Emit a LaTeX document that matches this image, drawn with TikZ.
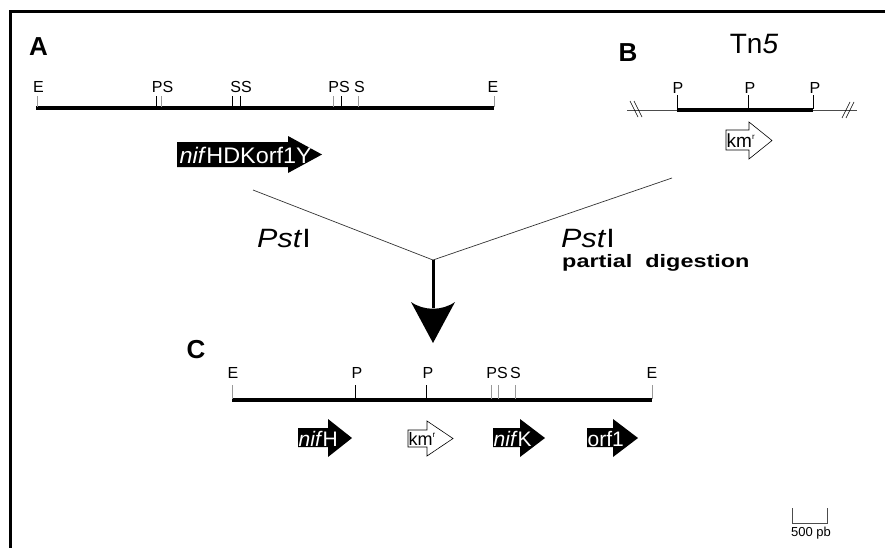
\documentclass[tikz,border=0pt]{standalone}
\usepackage{fontspec}
\setmainfont{Liberation Sans}
\usetikzlibrary{arrows.meta}

\newcommand{\wide}[2]{\scalebox{#1}[1]{#2}}
\newcommand{\kmr}{km\raisebox{0.42em}{\fontsize{8}{8}\selectfont r}}

\begin{document}
\begin{tikzpicture}[x=1pt,y=-1pt,
  panel/.style={inner sep=0pt, font=\fontsize{26}{26}\selectfont\bfseries},
  site/.style={inner sep=0pt, font=\fontsize{16}{16}\selectfont},
  darktick/.style={line width=0.9pt, black},
  lighttick/.style={line width=0.9pt, black!40},
  mapline/.style={line width=4pt},
  vector/.style={line width=0.8pt, black!70},
  genebox/.style={fill=black},
  openbox/.style={fill=white, draw=black, line width=0.6pt},
  genetext/.style={inner sep=0pt, anchor=west, text=white},
  opentext/.style={inner sep=0pt, anchor=west, text=black},
  enzyme/.style={inner sep=0pt, font=\fontsize{26.5}{26.5}\selectfont},
  branch/.style={line width=0.7pt, black!80},
]
\useasboundingbox (0,0) rectangle (885,547);
\clip (0,0) rectangle (885,547);

% outer frame
\draw[line width=3pt] (10.5,600) -- (10.5,11.5) -- (900,11.5);

% ---------------- A: genomic EcoRI fragment ----------------
\node[panel] (labA) at (38.5,47) {A};
\draw[mapline] (36,108) -- (494,108);
\draw[lighttick] (37,96) -- (37,107);
\draw[darktick] (156,96) -- (156,107);
\draw[lighttick] (161,96) -- (161,107);
\draw[darktick] (232,96) -- (232,107);
\draw[darktick] (240,96) -- (240,107);
\draw[lighttick] (333,96) -- (333,107);
\draw[darktick] (341,96) -- (341,107);
\draw[lighttick] (358,96) -- (358,107);
\draw[lighttick] (494,96) -- (494,107);
\node[site] (aE1) at (38.5,87) {E};
\node[site] (aPS1) at (162.5,87) {PS};
\node[site] (aSS) at (241,87) {SS};
\node[site] (aPS2) at (339,87) {PS};
\node[site] (aS) at (359.5,87) {S};
\node[site] (aE2) at (493,87) {E};

\fill[genebox] (177,142) -- (288,142) -- (288,136) -- (322,154.5)
  -- (288,173) -- (288,167) -- (177,167) -- cycle;
\node[genetext, font=\fontsize{22.5}{22.5}\selectfont] (geneA) at (179.5,155)
  {\wide{1.04}{\textit{nif}HDKorf1Y}};

% ---------------- B: Tn5 ----------------
\node[panel] (labB) at (628,53) {B};
\node[inner sep=0pt, font=\fontsize{28}{28}\selectfont] (tn5) at (754,44) {Tn\textit{5}};
\draw[vector] (627,110) -- (677,110);
\draw[vector] (813,110) -- (857,110);
\draw[mapline] (677,110) -- (813,110);
\draw[line width=0.6pt] (630,101) -- (638,117);
\draw[line width=0.6pt] (634,101) -- (642,117);
\draw[line width=0.6pt] (842,118) -- (850,102);
\draw[line width=0.6pt] (846,118) -- (854,102);
\draw[darktick] (677,95) -- (677,109);
\draw[darktick] (748,95) -- (748,109);
\draw[darktick] (813,95) -- (813,109);
\node[site] (bP1) at (678,87.5) {P};
\node[site] (bP2) at (750,87.5) {P};
\node[site] (bP3) at (815,87.5) {P};

\filldraw[openbox] (726,130) -- (749,130) -- (749,122) -- (772,140.5)
  -- (749,159) -- (749,150) -- (726,150) -- cycle;
\node[opentext, font=\fontsize{19}{19}\selectfont] (kmB) at (726.5,141) {\kmr};

% ---------------- digestion and ligation ----------------
\coordinate (fromA) at (253,190);
\coordinate (fromB) at (672,178);
\coordinate (join) at (433,260);
\coordinate (tip) at (433,343);
\draw[branch] (fromA) -- (join);
\draw[branch] (fromB) -- (join);
\draw[line width=3pt] (join) -- (433,308);
\fill (tip) -- (411,302) .. controls (424,311) and (442,311) .. (455,302) -- cycle;

\node[enzyme, anchor=west] (pstA) at (257,239) {\wide{1.15}{\textit{Pst}I}};
\node[enzyme, anchor=west] (pstB) at (561,239) {\wide{1.15}{\textit{Pst}I}};
\node[inner sep=0pt, anchor=west, font=\fontsize{18}{18}\selectfont\bfseries] (partial) at (562,263)
  {\wide{1.3}{partial\ \ digestion}};

% ---------------- C: recombinant fragment ----------------
\node[panel] (labC) at (196,350) {C};
\draw[mapline] (232,400) -- (652,400);
\draw[lighttick] (232,385) -- (232,399);
\draw[darktick] (355,385) -- (355,399);
\draw[darktick] (426,385) -- (426,399);
\draw[lighttick] (491,385) -- (491,399);
\draw[lighttick] (498,385) -- (498,399);
\draw[lighttick] (515,385) -- (515,399);
\draw[lighttick] (652,385) -- (652,399);
\node[site] (cE1) at (233,373) {E};
\node[site] (cP1) at (357,373) {P};
\node[site] (cP2) at (428,373) {P};
\node[site] (cPS) at (497,373) {PS};
\node[site] (cS) at (515.5,373) {S};
\node[site] (cE2) at (652,373) {E};

\fill[genebox] (298,428) -- (328,428) -- (328,419) -- (352,438)
  -- (328,457) -- (328,447) -- (298,447) -- cycle;
\node[genetext, font=\fontsize{21}{21}\selectfont] (nifH) at (298.5,438.5) {\textit{nif}H};

\filldraw[openbox] (408,430) -- (427,430) -- (427,421) -- (453,438.5)
  -- (427,456) -- (427,447) -- (408,447) -- cycle;
\node[opentext, font=\fontsize{18}{18}\selectfont] (kmC) at (408.5,439) {\kmr};

\fill[genebox] (493,428) -- (520,428) -- (520,419) -- (545,438)
  -- (520,457) -- (520,447) -- (493,447) -- cycle;
\node[genetext, font=\fontsize{21}{21}\selectfont] (nifK) at (493.5,438.5) {\textit{nif}K};

\fill[genebox] (587,428) -- (613,428) -- (613,419) -- (638,438)
  -- (613,457) -- (613,447) -- (587,447) -- cycle;
\node[genetext, font=\fontsize{21}{21}\selectfont] (orf) at (587.5,438.5) {orf1};

% ---------------- scale bar ----------------
\draw[line width=0.8pt, black!70] (792,508) -- (792,523) -- (827,523) -- (827,508);
\node[inner sep=0pt, font=\fontsize{13}{13}\selectfont] (scale) at (811,533) {500 pb};
\end{tikzpicture}
\end{document}
